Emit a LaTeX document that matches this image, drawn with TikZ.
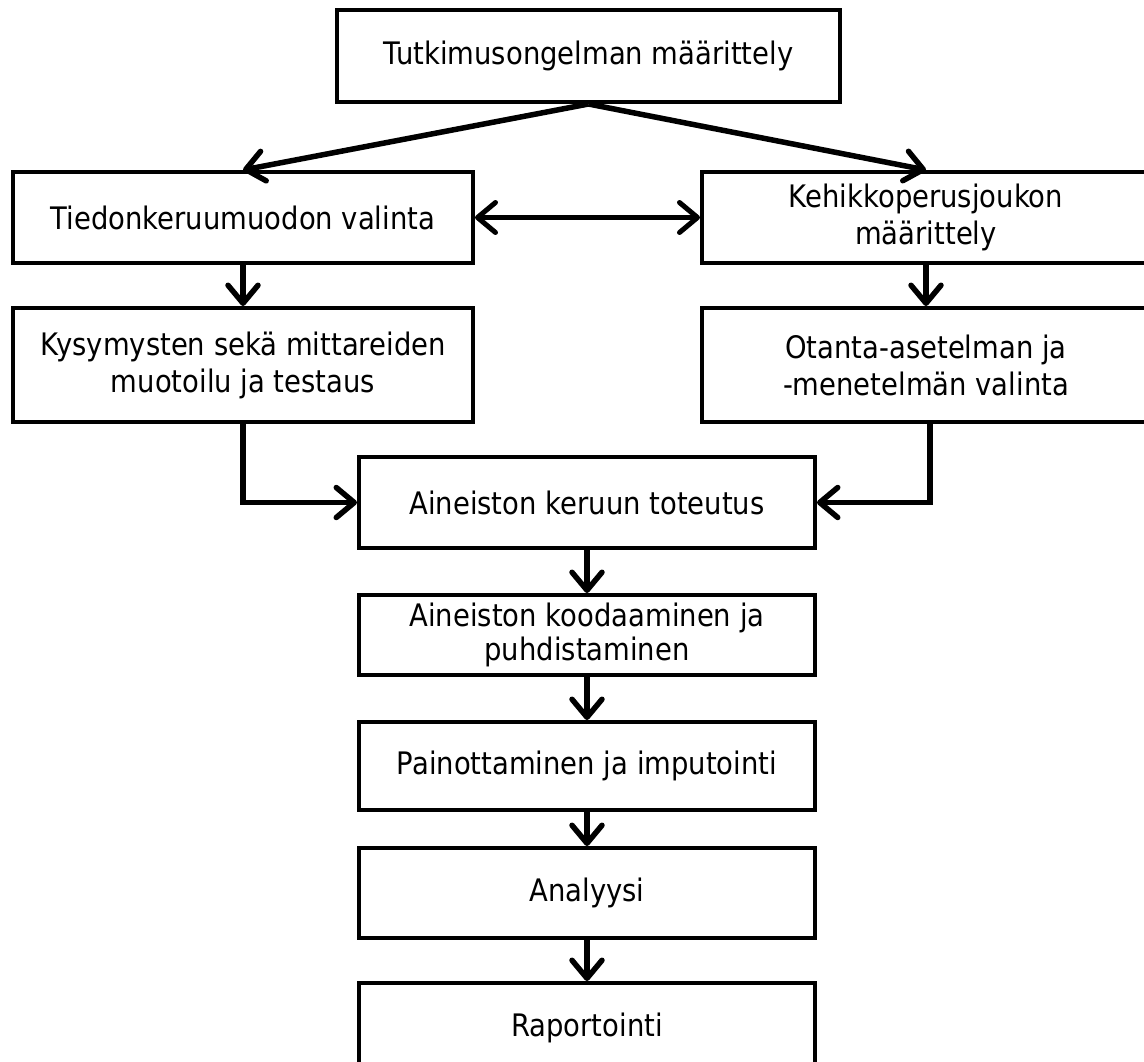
\documentclass[tikz,border=0pt]{standalone}
\usepackage{fontspec}
\setmainfont{DejaVu Sans}[FakeStretch=0.885]
\usetikzlibrary{arrows.meta}
\begin{document}
\begin{tikzpicture}[x=1pt,y=-1pt,
  box/.style={draw=black, line width=4pt, fill=white, inner sep=0pt, align=center,
    font=\fontsize{31}{37}\selectfont},
  tip/.style={},
  arr/.style={line width=5.5pt, -{Straight Barb[length=18pt,width=30pt,round]}},
  darr/.style={line width=5pt, {Straight Barb[length=18pt,width=30pt,round]}-{Straight Barb[length=18pt,width=30pt,round]}}
]
\useasboundingbox (0,0) rectangle (1144,1061);
\fill[white] (0,0) rectangle (1144,1061);
\clip (0,0) rectangle (1144,1061);

\node[box, minimum width=503pt, minimum height=92pt] (b1) at (588.5,56) {Tutkimusongelman määrittely};
\node[box, minimum width=460pt, minimum height=91pt] (b2) at (243,217.5) {Tiedonkeruumuodon valinta};
\node[box, minimum width=448pt, minimum height=91pt] (b3) at (926,217.5) {Kehikkoperusjoukon\\määrittely};
\node[box, minimum width=460pt, minimum height=114pt] (b4) at (243,365) {Kysymysten sekä mittareiden\\muotoilu ja testaus};
\node[box, minimum width=448pt, minimum height=114pt] (b5) at (926,365) {Otanta-asetelman ja\\-menetelmän valinta};
\node[box, minimum width=456pt, minimum height=91pt] (b6) at (587,502.5) {Aineiston keruun toteutus};
\node[box, minimum width=456pt, minimum height=80pt, font=\fontsize{31}{34}\selectfont] (b7) at (587,635) {Aineiston koodaaminen ja\\puhdistaminen};
\node[box, minimum width=456pt, minimum height=88pt] (b8) at (587,766) {Painottaminen ja imputointi};
\node[box, minimum width=456pt, minimum height=90pt] (b9) at (587,893) {Analyysi};
\node[box, minimum width=456pt, minimum height=90pt] (b10) at (587,1028) {Raportointi};

\draw[arr] (b1.south) -- (b2.north);
\draw[arr] (b1.south) -- (b3.north);
\draw[darr] (b2.east) -- (b3.west);
\draw[arr] (b2.south) -- (b4.north);
\draw[arr] (b3.south) -- (b5.north);
\draw[arr] (b4.south) |- (b6.west);
\draw[arr] ([xshift=4pt]b5.south) |- (b6.east);
\draw[arr] (b6.south) -- (b7.north);
\draw[arr] (b7.south) -- (b8.north);
\draw[arr] (b8.south) -- (b9.north);
\draw[arr] (b9.south) -- (b10.north);
\end{tikzpicture}
\end{document}
